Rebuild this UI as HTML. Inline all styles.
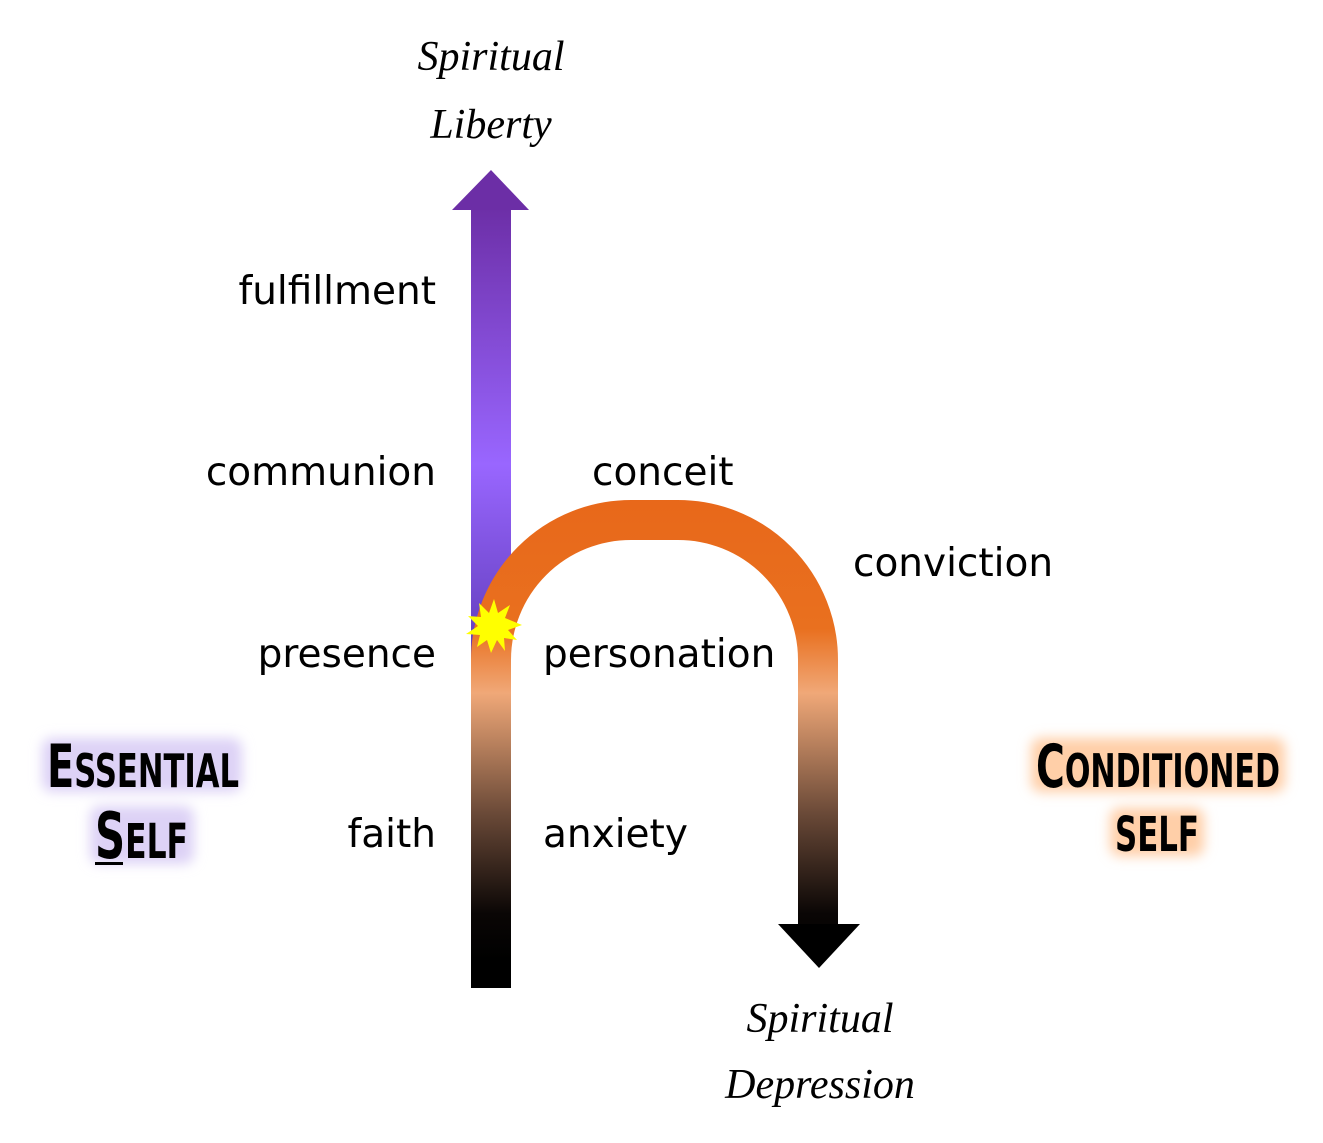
<!DOCTYPE html>
<html><head><meta charset="utf-8"><style>
html,body{margin:0;padding:0;background:#fff;}
svg{display:block;}
.lab{font-family:"DejaVu Sans","Liberation Sans",sans-serif;font-size:39px;fill:#000;}
.scr{font-family:"Liberation Serif",serif;font-style:italic;font-size:42px;fill:#000;}
.cap{font-family:"Liberation Sans Narrow","DejaVu Sans Condensed","Liberation Sans",sans-serif;font-weight:bold;fill:#000;}
</style></head><body>
<svg width="1323" height="1143" viewBox="0 0 1323 1143" xmlns="http://www.w3.org/2000/svg">
<defs>
<linearGradient id="pg" gradientUnits="userSpaceOnUse" x1="0" y1="205" x2="0" y2="660">
<stop offset="0" stop-color="#6c2ea6"/>
<stop offset="0.57" stop-color="#9966ff"/>
<stop offset="1" stop-color="#5f3cb8"/>
</linearGradient>
<linearGradient id="og" gradientUnits="userSpaceOnUse" x1="0" y1="500" x2="0" y2="960">
<stop offset="0" stop-color="#e8681a"/>
<stop offset="0.28" stop-color="#e9701f"/>
<stop offset="0.42" stop-color="#f0a878"/>
<stop offset="0.68" stop-color="#6b4a38"/>
<stop offset="0.9" stop-color="#0a0605"/>
<stop offset="1" stop-color="#000"/>
</linearGradient>
<filter id="gp" x="-20%" y="-40%" width="140%" height="180%"><feGaussianBlur stdDeviation="6"/></filter>
</defs>
<rect x="471" y="205" width="40" height="460" fill="url(#pg)"/>
<polygon points="452,210 491,170 529,210" fill="#6c2ea6"/>
<path d="M491,988 L491,660 A140,140 0 0 1 631,520 L678,520 A140,140 0 0 1 818,660 L818,926" fill="none" stroke="url(#og)" stroke-width="40"/>
<polygon points="778,924 860,924 819,968" fill="#000"/>
<polygon fill="#ffff00" points="522,625 508,630 517,640 504,638 505,651 497,640 491,653 487,640 477,647 480,635 466,634 478,626 468,616 481,617 479,603 489,613 494,599 498,613 510,605 505,618"/>

<text class="lab" x="436" y="304" text-anchor="end">fulfillment</text>
<text class="lab" x="436" y="485" text-anchor="end">communion</text>
<text class="lab" x="436" y="667" text-anchor="end">presence</text>
<text class="lab" x="436" y="847" text-anchor="end">faith</text>
<text class="lab" x="592" y="485">conceit</text>
<text class="lab" x="853" y="576">conviction</text>
<text class="lab" x="543" y="667">personation</text>
<text class="lab" x="543" y="847">anxiety</text>

<text class="scr" x="491" y="70" text-anchor="middle">Spiritual</text>
<text class="scr" x="491" y="138" text-anchor="middle">Liberty</text>
<text class="scr" x="820" y="1032" text-anchor="middle">Spiritual</text>
<text class="scr" x="820" y="1098" text-anchor="middle">Depression</text>

<g filter="url(#gp)" fill="#ddd2f6">
<rect x="42" y="738" width="200" height="54" rx="10"/>
<rect x="90" y="806" width="104" height="58" rx="10"/>
</g>
<g filter="url(#gp)" fill="#ffcfa8">
<rect x="1031" y="738" width="254" height="54" rx="10"/>
<rect x="1110" y="808" width="94" height="48" rx="10"/>
</g>
<text class="cap" x="47" y="787" textLength="192" lengthAdjust="spacingAndGlyphs"><tspan font-size="60">E</tspan><tspan font-size="46">SSENTIAL</tspan></text>
<text class="cap" x="95" y="858" textLength="93" lengthAdjust="spacingAndGlyphs"><tspan font-size="64">S</tspan><tspan font-size="48">ELF</tspan></text>
<rect x="95" y="862" width="28" height="3" fill="#000"/>
<text class="cap" x="1036" y="787" textLength="244" lengthAdjust="spacingAndGlyphs"><tspan font-size="60">C</tspan><tspan font-size="46">ONDITIONED</tspan></text>
<text class="cap" x="1115" y="851" textLength="84" lengthAdjust="spacingAndGlyphs" font-size="48">SELF</text>
</svg>
</body></html>
